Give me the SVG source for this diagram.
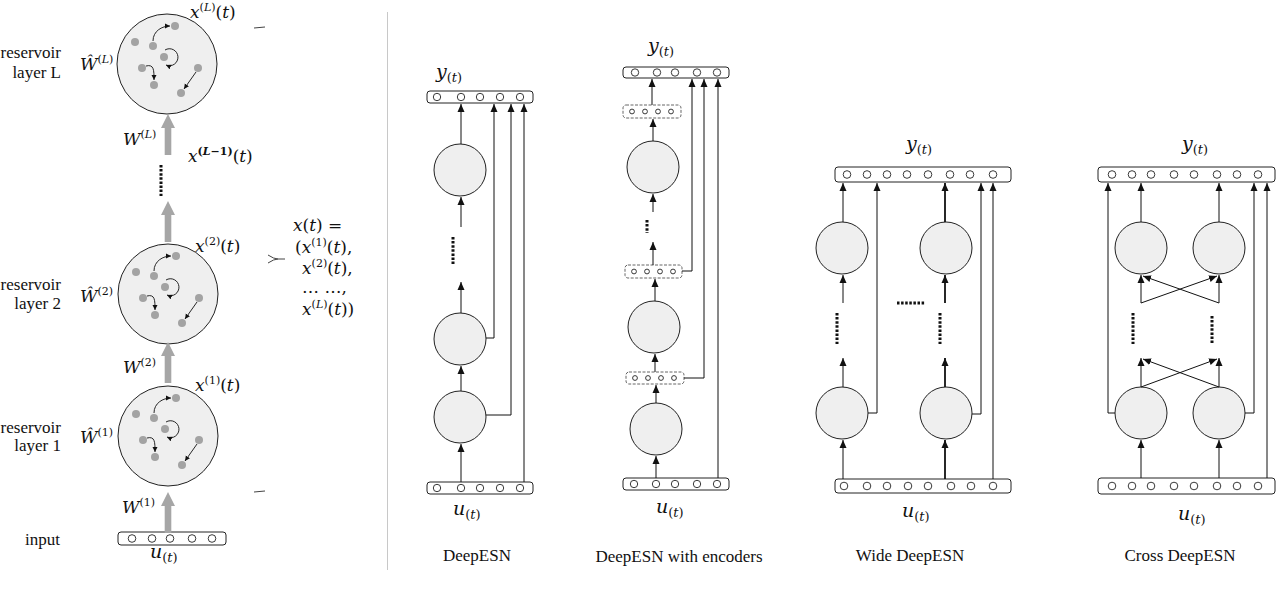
<svg xmlns="http://www.w3.org/2000/svg" width="1280" height="606" viewBox="0 0 1280 606">
<style>
.c{fill:#efefef;stroke:#222;stroke-width:1}
.bar{fill:#fff;stroke:#222;stroke-width:1}
.enc{fill:#fff;stroke:#666;stroke-width:1;stroke-dasharray:3 1.5}
.o{fill:#fff;stroke:#222;stroke-width:0.9}
.e{fill:none;stroke:#111;stroke-width:1;marker-end:url(#ah)}
.e2{fill:none;stroke:#111;stroke-width:1.8;marker-end:url(#ah)}
.dt{fill:none;stroke:#111;stroke-width:3;stroke-dasharray:2.5 1.6}
.dh{fill:none;stroke:#111;stroke-width:3;stroke-dasharray:2.5 1.6}
.t{font-family:"Liberation Serif",serif;font-size:17px;fill:#111}
.m{font-family:"DejaVu Serif",serif;font-size:17px;fill:#111}
.i{font-style:italic}
.rd{fill:#a3a3a3}
.ra{fill:none;stroke:#111;stroke-width:0.9;marker-end:url(#sh)}
.ga{fill:#a6a6a6}
.br{fill:none;stroke:#444;stroke-width:1}
</style>
<defs>
<marker id="ah" markerWidth="9" markerHeight="9" refX="8" refY="4.5" orient="auto" markerUnits="userSpaceOnUse"><path d="M0,1 L8,4.5 L0,8 z" fill="#111"/></marker>
<marker id="sh" markerWidth="6" markerHeight="6" refX="5" refY="3" orient="auto" markerUnits="userSpaceOnUse"><path d="M0,0.5 L5,3 L0,5.5 z" fill="#111"/></marker>
<g id="res">
<circle r="50" class="c"/>
<circle cx="-32" cy="-22" r="4" class="rd"/>
<circle cx="-14" cy="-18" r="4" class="rd"/>
<circle cx="8" cy="-38" r="4" class="rd"/>
<circle cx="-3" cy="-7" r="4" class="rd"/>
<circle cx="-25" cy="4" r="4" class="rd"/>
<circle cx="-13" cy="21" r="4" class="rd"/>
<circle cx="31" cy="4" r="4" class="rd"/>
<circle cx="14" cy="29" r="4" class="rd"/>
<path class="ra" d="M-14,-23 C-14,-33 -5,-38 3,-38"/>
<path class="ra" d="M-2,-14 A8.5,8.5 0 1 1 -1,1"/>
<path class="ra" d="M-21,2 C-13,0 -13,6 -13,16"/>
<path class="ra" d="M29,8 L17,25"/>
</g>
<path id="ga" d="M-3.3,0 L3.3,0 L3.3,-27 L7,-27 L0,-41 L-7,-27 L-3.3,-27 z"/>
</defs>

<!-- left panel -->
<g id="reservoir-L">
<use href="#res" x="167" y="64"/>
<text class="t" x="61" y="58" text-anchor="end">reservoir</text>
<text class="t" x="61" y="78" text-anchor="end">layer L</text>
<text class="m" x="80" y="70"><tspan class="i">Ŵ</tspan><tspan font-size="11" dy="-7">(<tspan class="i">L</tspan>)</tspan></text>
<text class="m" x="190" y="18"><tspan class="i">x</tspan><tspan font-size="11" dy="-7">(<tspan class="i">L</tspan>)</tspan><tspan dy="7">(</tspan><tspan class="i">t</tspan>)</text>
</g>
<g id="reservoir-2">
<use href="#res" x="168" y="294"/>
<text class="t" x="61" y="290" text-anchor="end">reservoir</text>
<text class="t" x="61" y="309" text-anchor="end">layer 2</text>
<text class="m" x="80" y="302"><tspan class="i">Ŵ</tspan><tspan font-size="11" dy="-7">(2)</tspan></text>
<text class="m" x="195" y="252"><tspan class="i">x</tspan><tspan font-size="11" dy="-7">(2)</tspan><tspan dy="7">(</tspan><tspan class="i">t</tspan>)</text>
</g>
<g id="reservoir-1">
<use href="#res" x="168" y="436"/>
<text class="t" x="61" y="433" text-anchor="end">reservoir</text>
<text class="t" x="61" y="451" text-anchor="end">layer 1</text>
<text class="m" x="80" y="443"><tspan class="i">Ŵ</tspan><tspan font-size="11" dy="-7">(1)</tspan></text>
<text class="m" x="195" y="391"><tspan class="i">x</tspan><tspan font-size="11" dy="-7">(1)</tspan><tspan dy="7">(</tspan><tspan class="i">t</tspan>)</text>
</g>
<g id="input-left">
<text class="t" x="25" y="545">input</text>
<rect x="118" y="532" width="108" height="13" rx="3" class="bar"/>
<circle cx="132" cy="538.5" r="3.8" class="o"/>
<circle cx="152" cy="538.5" r="3.8" class="o"/>
<circle cx="170" cy="538.5" r="3.8" class="o"/>
<circle cx="192" cy="538.5" r="3.8" class="o"/>
<circle cx="212" cy="538.5" r="3.8" class="o"/>
<text class="m" x="150" y="558"><tspan class="i" font-size="19">u</tspan><tspan font-size="13" dy="4">(<tspan class="i">t</tspan>)</tspan></text>
</g>
<g id="left-connectors">
<use href="#ga" class="ga" x="168" y="155"/>
<use href="#ga" class="ga" x="168" y="242"/>
<use href="#ga" class="ga" x="168" y="383"/>
<use href="#ga" class="ga" x="168" y="533"/>
<line x1="161" y1="165" x2="161" y2="196" class="dt"/>
<text class="m" x="123" y="145"><tspan class="i">W</tspan><tspan font-size="11" dy="-7">(<tspan class="i">L</tspan>)</tspan></text>
<text class="m" x="188" y="162"><tspan class="i">x</tspan><tspan font-size="11" dy="-7" font-weight="bold">(<tspan class="i">L</tspan>−1)</tspan><tspan dy="7">(</tspan><tspan class="i">t</tspan>)</text>
<text class="m" x="123" y="373"><tspan class="i">W</tspan><tspan font-size="11" dy="-7">(2)</tspan></text>
<text class="m" x="122" y="513"><tspan class="i">W</tspan><tspan font-size="11" dy="-7">(1)</tspan></text>
<path class="br" d="M254,28 L265,27"/>
<path class="br" d="M268,255 Q274,259 278,259 Q274,259 268,263 M278,259 L285,259"/>
<path class="br" d="M254,492 L265,491"/>
</g>
<g id="state-formula">
<text class="m" x="293" y="231"><tspan class="i">x</tspan>(<tspan class="i">t</tspan>) =</text>
<text class="m" x="295" y="253">(<tspan class="i">x</tspan><tspan font-size="11" dy="-7">(1)</tspan><tspan dy="7">(</tspan><tspan class="i">t</tspan>),</text>
<text class="m" x="302" y="274"><tspan class="i">x</tspan><tspan font-size="11" dy="-7">(2)</tspan><tspan dy="7">(</tspan><tspan class="i">t</tspan>),</text>
<text class="m" x="302" y="293">… …,</text>
<text class="m" x="302" y="315"><tspan class="i">x</tspan><tspan font-size="11" dy="-7">(<tspan class="i">L</tspan>)</tspan><tspan dy="7">(</tspan><tspan class="i">t</tspan>))</text>
</g>
<line x1="387.5" y1="12" x2="387.5" y2="570" stroke="#c8c8c8" stroke-width="1"/>

<!-- DeepESN -->
<g id="deepesn-output">
<text class="m" x="436" y="78"><tspan class="i" font-size="19">y</tspan><tspan font-size="13" dy="4">(<tspan class="i">t</tspan>)</tspan></text>
<rect x="427" y="91" width="106" height="12" rx="3" class="bar"/>
<circle cx="437" cy="97" r="3.7" class="o"/><circle cx="461" cy="97" r="3.7" class="o"/><circle cx="480" cy="97" r="3.7" class="o"/><circle cx="500" cy="97" r="3.7" class="o"/><circle cx="520" cy="97" r="3.7" class="o"/>
</g>
<g id="deepesn-layer-L"><circle cx="460" cy="170" r="26" class="c"/></g>
<g id="deepesn-layer-2"><circle cx="460" cy="339" r="26" class="c"/></g>
<g id="deepesn-layer-1"><circle cx="460" cy="417" r="26" class="c"/></g>
<g id="deepesn-input">
<rect x="427" y="482" width="106" height="12" rx="3" class="bar"/>
<circle cx="437" cy="488" r="3.7" class="o"/><circle cx="461" cy="488" r="3.7" class="o"/><circle cx="480" cy="488" r="3.7" class="o"/><circle cx="500" cy="488" r="3.7" class="o"/><circle cx="520" cy="488" r="3.7" class="o"/>
<text class="m" x="453" y="515"><tspan class="i" font-size="19">u</tspan><tspan font-size="13" dy="4">(<tspan class="i">t</tspan>)</tspan></text>
<text class="t" x="477" y="561" text-anchor="middle">DeepESN</text>
</g>
<g id="deepesn-connectors">
<line x1="461" y1="144" x2="461" y2="104" class="e"/>
<line x1="461" y1="227" x2="461" y2="197" class="e"/>
<line x1="453" y1="237" x2="453" y2="264" class="dt"/>
<line x1="461" y1="313" x2="461" y2="282" class="e"/>
<line x1="461" y1="391" x2="461" y2="366" class="e"/>
<line x1="461" y1="482" x2="461" y2="444" class="e"/>
<polyline points="486,338 494,338 494,104" class="e"/>
<polyline points="486,415 511,415 511,104" class="e"/>
<line x1="524" y1="482" x2="524" y2="104" class="e"/>
</g>

<!-- DeepESN with encoders -->
<g id="enc-output">
<text class="m" x="648" y="52"><tspan class="i" font-size="19">y</tspan><tspan font-size="13" dy="4">(<tspan class="i">t</tspan>)</tspan></text>
<rect x="623" y="67" width="106" height="11" rx="3" class="bar"/>
<circle cx="635" cy="72.5" r="3.7" class="o"/><circle cx="657" cy="72.5" r="3.7" class="o"/><circle cx="675" cy="72.5" r="3.7" class="o"/><circle cx="697" cy="72.5" r="3.7" class="o"/><circle cx="717" cy="72.5" r="3.7" class="o"/>
</g>
<g id="enc-encoder-L">
<rect x="623" y="105" width="58" height="13" rx="3" class="enc"/>
<circle cx="632" cy="111.5" r="2.4" class="o"/><circle cx="645" cy="111.5" r="2.4" class="o"/><circle cx="658" cy="111.5" r="2.4" class="o"/><circle cx="671" cy="111.5" r="2.4" class="o"/>
</g>
<g id="enc-layer-L"><circle cx="653" cy="167" r="26" class="c"/></g>
<g id="enc-encoder-2">
<rect x="625" y="265" width="57" height="13" rx="3" class="enc"/>
<circle cx="634" cy="271.5" r="2.4" class="o"/><circle cx="647" cy="271.5" r="2.4" class="o"/><circle cx="660" cy="271.5" r="2.4" class="o"/><circle cx="673" cy="271.5" r="2.4" class="o"/>
</g>
<g id="enc-layer-2"><circle cx="654" cy="327" r="26" class="c"/></g>
<g id="enc-encoder-1">
<rect x="626" y="372" width="58" height="12" rx="3" class="enc"/>
<circle cx="635" cy="378" r="2.4" class="o"/><circle cx="648" cy="378" r="2.4" class="o"/><circle cx="661" cy="378" r="2.4" class="o"/><circle cx="674" cy="378" r="2.4" class="o"/>
</g>
<g id="enc-layer-1"><circle cx="656" cy="429" r="26" class="c"/></g>
<g id="enc-input">
<rect x="623" y="478" width="106" height="12" rx="3" class="bar"/>
<circle cx="634" cy="484" r="3.7" class="o"/><circle cx="656" cy="484" r="3.7" class="o"/><circle cx="675" cy="484" r="3.7" class="o"/><circle cx="697" cy="484" r="3.7" class="o"/><circle cx="717" cy="484" r="3.7" class="o"/>
<text class="m" x="656" y="513"><tspan class="i" font-size="19">u</tspan><tspan font-size="13" dy="4">(<tspan class="i">t</tspan>)</tspan></text>
<text class="t" x="679" y="562" text-anchor="middle">DeepESN with encoders</text>
</g>
<g id="enc-connectors">
<line x1="652" y1="105" x2="652" y2="79" class="e"/>
<line x1="653" y1="141" x2="653" y2="119" class="e"/>
<line x1="653" y1="212" x2="653" y2="194" class="e"/>
<line x1="647" y1="220" x2="647" y2="233" class="dt"/>
<line x1="653" y1="265" x2="653" y2="242" class="e"/>
<line x1="655" y1="301" x2="655" y2="279" class="e"/>
<line x1="655" y1="372" x2="655" y2="354" class="e"/>
<line x1="656" y1="403" x2="656" y2="385" class="e"/>
<line x1="656" y1="478" x2="656" y2="456" class="e"/>
<polyline points="682,271 692,271 692,79" class="e"/>
<polyline points="684,378 704,378 704,79" class="e"/>
<line x1="718" y1="478" x2="718" y2="79" class="e"/>
</g>

<!-- Wide DeepESN -->
<g id="wide-output">
<text class="m" x="906" y="150"><tspan class="i" font-size="19">y</tspan><tspan font-size="13" dy="4">(<tspan class="i">t</tspan>)</tspan></text>
<rect x="835" y="167" width="176" height="15" rx="3" class="bar"/>
<circle cx="847" cy="174.5" r="3.8" class="o"/><circle cx="867" cy="174.5" r="3.8" class="o"/><circle cx="887" cy="174.5" r="3.8" class="o"/><circle cx="907" cy="174.5" r="3.8" class="o"/><circle cx="928" cy="174.5" r="3.8" class="o"/><circle cx="950" cy="174.5" r="3.8" class="o"/><circle cx="970" cy="174.5" r="3.8" class="o"/><circle cx="993" cy="174.5" r="3.8" class="o"/>
</g>
<g id="wide-a-top"><circle cx="842" cy="248" r="26" class="c"/></g>
<g id="wide-b-top"><circle cx="946" cy="248" r="26" class="c"/></g>
<g id="wide-a-bottom"><circle cx="842" cy="413" r="26" class="c"/></g>
<g id="wide-b-bottom"><circle cx="946" cy="413" r="26" class="c"/></g>
<g id="wide-input">
<rect x="835" y="479" width="176" height="14" rx="3" class="bar"/>
<circle cx="844" cy="486" r="3.8" class="o"/><circle cx="867" cy="486" r="3.8" class="o"/><circle cx="887" cy="486" r="3.8" class="o"/><circle cx="908" cy="486" r="3.8" class="o"/><circle cx="928" cy="486" r="3.8" class="o"/><circle cx="951" cy="486" r="3.8" class="o"/><circle cx="971" cy="486" r="3.8" class="o"/><circle cx="993" cy="486" r="3.8" class="o"/>
<text class="m" x="902" y="517"><tspan class="i" font-size="19">u</tspan><tspan font-size="13" dy="4">(<tspan class="i">t</tspan>)</tspan></text>
<text class="t" x="910" y="561" text-anchor="middle">Wide DeepESN</text>
</g>
<g id="wide-connectors">
<line x1="843" y1="222" x2="843" y2="183" class="e"/>
<line x1="945" y1="222" x2="945" y2="183" class="e2"/>
<line x1="843" y1="303" x2="843" y2="275" class="e"/>
<line x1="945" y1="303" x2="945" y2="275" class="e2"/>
<line x1="837" y1="313" x2="837" y2="344" class="dt"/>
<line x1="940" y1="313" x2="940" y2="344" class="dt"/>
<line x1="897" y1="303" x2="925" y2="303" class="dh"/>
<line x1="843" y1="387" x2="843" y2="358" class="e"/>
<line x1="945" y1="387" x2="945" y2="358" class="e2"/>
<line x1="843" y1="479" x2="843" y2="440" class="e"/>
<line x1="945" y1="479" x2="945" y2="440" class="e2"/>
<polyline points="868,413 877,413 877,183" class="e"/>
<polyline points="972,414 981,414 981,183" class="e"/>
<line x1="993" y1="479" x2="993" y2="183" class="e"/>
</g>

<!-- Cross DeepESN -->
<g id="cross-output">
<text class="m" x="1182" y="150"><tspan class="i" font-size="19">y</tspan><tspan font-size="13" dy="4">(<tspan class="i">t</tspan>)</tspan></text>
<rect x="1098" y="167" width="177" height="15" rx="3" class="bar"/>
<circle cx="1112" cy="174.5" r="3.8" class="o"/><circle cx="1132" cy="174.5" r="3.8" class="o"/><circle cx="1151" cy="174.5" r="3.8" class="o"/><circle cx="1174" cy="174.5" r="3.8" class="o"/><circle cx="1194" cy="174.5" r="3.8" class="o"/><circle cx="1217" cy="174.5" r="3.8" class="o"/><circle cx="1237" cy="174.5" r="3.8" class="o"/><circle cx="1258" cy="174.5" r="3.8" class="o"/>
</g>
<g id="cross-a-top"><circle cx="1141" cy="248" r="26" class="c"/></g>
<g id="cross-b-top"><circle cx="1219" cy="248" r="26" class="c"/></g>
<g id="cross-a-bottom"><circle cx="1141" cy="413" r="26" class="c"/></g>
<g id="cross-b-bottom"><circle cx="1219" cy="413" r="26" class="c"/></g>
<g id="cross-input">
<rect x="1098" y="478" width="177" height="16" rx="3" class="bar"/>
<circle cx="1112" cy="486" r="3.8" class="o"/><circle cx="1132" cy="486" r="3.8" class="o"/><circle cx="1151" cy="486" r="3.8" class="o"/><circle cx="1174" cy="486" r="3.8" class="o"/><circle cx="1194" cy="486" r="3.8" class="o"/><circle cx="1217" cy="486" r="3.8" class="o"/><circle cx="1237" cy="486" r="3.8" class="o"/><circle cx="1258" cy="486" r="3.8" class="o"/>
<text class="m" x="1178" y="520"><tspan class="i" font-size="19">u</tspan><tspan font-size="13" dy="4">(<tspan class="i">t</tspan>)</tspan></text>
<text class="t" x="1180" y="561" text-anchor="middle">Cross DeepESN</text>
</g>
<g id="cross-connectors">
<line x1="1141" y1="222" x2="1141" y2="183" class="e"/>
<line x1="1219" y1="222" x2="1219" y2="183" class="e"/>
<line x1="1141" y1="303" x2="1141" y2="275" class="e"/>
<line x1="1219" y1="303" x2="1219" y2="275" class="e"/>
<line x1="1141" y1="303" x2="1217" y2="276" class="e"/>
<line x1="1219" y1="303" x2="1143" y2="276" class="e"/>
<line x1="1133" y1="313" x2="1133" y2="344" class="dt"/>
<line x1="1212" y1="316" x2="1212" y2="344" class="dt"/>
<line x1="1141" y1="387" x2="1141" y2="358" class="e"/>
<line x1="1219" y1="387" x2="1219" y2="358" class="e"/>
<line x1="1141" y1="387" x2="1217" y2="359" class="e"/>
<line x1="1219" y1="387" x2="1143" y2="359" class="e"/>
<line x1="1141" y1="478" x2="1141" y2="440" class="e"/>
<line x1="1219" y1="478" x2="1219" y2="440" class="e"/>
<polyline points="1115,413 1108,413 1108,183" class="e"/>
<polyline points="1245,413 1254,413 1254,183" class="e"/>
<line x1="1267" y1="478" x2="1267" y2="183" class="e"/>
</g>
</svg>
